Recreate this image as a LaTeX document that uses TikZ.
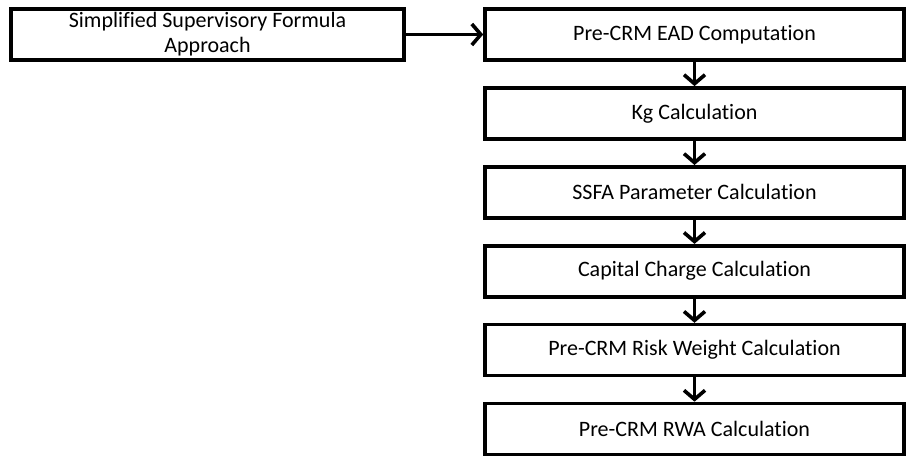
\documentclass[tikz,border=0pt]{standalone}
\usepackage{fontspec}
\setmainfont[Ligatures=NoCommon]{Carlito}
\usepackage{tikz}
\usetikzlibrary{positioning,arrows.meta}

\begin{document}
\begin{tikzpicture}[
		x=1pt, y=1pt,
		font=\fontsize{22}{25}\selectfont,
		box/.style={draw, line width=3.6pt, align=center, inner sep=2pt,
				minimum height=51pt},
		stage/.style={box, minimum width=419pt},
		arr/.style={-{Straight Barb[length=9pt, width=21pt]}, line width=3.6pt}
		]
		\useasboundingbox (0,0) rectangle (908,-461);
		% left: approach
		\node[box, minimum width=393pt] (ssfa) at (207.5,-34.5)
		{Simplified Supervisory Formula\\Approach};
		% right: computation chain
		\node[stage] (ead) at (694.5,-34.5) {Pre-CRM EAD Computation};
		\node[stage, below=24.3pt of ead] (kg) {Kg Calculation};
		\node[stage, below=24.3pt of kg] (param) {SSFA Parameter Calculation};
		\node[stage, below=24.3pt of param] (charge) {Capital Charge Calculation};
		\node[stage, below=24.3pt of charge] (rw) {Pre-CRM Risk Weight Calculation};
		\node[stage, below=24.3pt of rw] (rwa) {Pre-CRM RWA Calculation};
		% arrows
		\draw[arr] (ssfa.east) -- (ead.west);
		\draw[arr] (ead) -- (kg);
		\draw[arr] (kg) -- (param);
		\draw[arr] (param) -- (charge);
		\draw[arr] (charge) -- (rw);
		\draw[arr] (rw) -- (rwa);
	\end{tikzpicture}
\end{document}
